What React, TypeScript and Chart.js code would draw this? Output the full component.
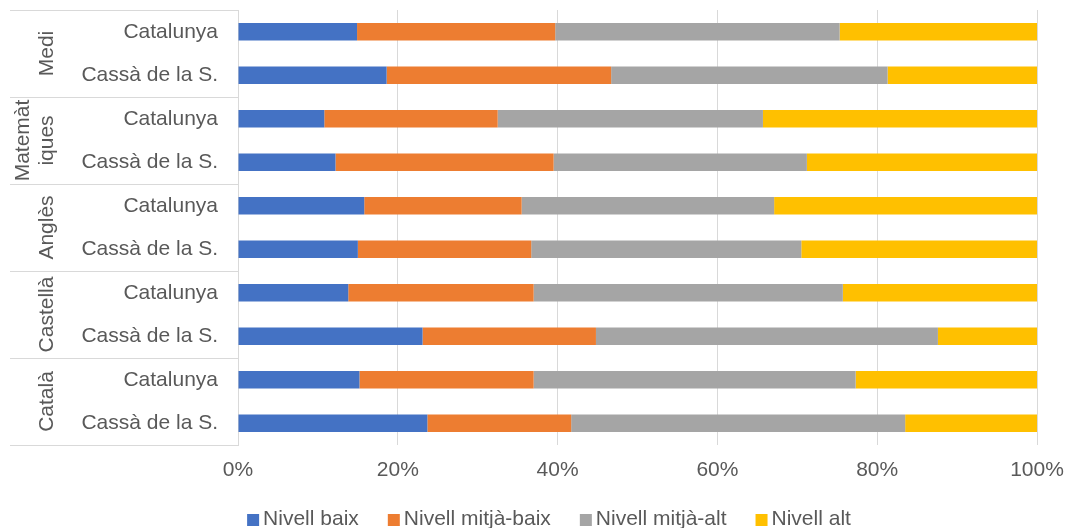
import React, { useEffect, useRef } from "react";
import { Chart, registerables } from "chart.js";

Chart.register(...registerables);

const categories = [
  "Catalunya", "Cassà de la S.",
  "Catalunya", "Cassà de la S.",
  "Catalunya", "Cassà de la S.",
  "Catalunya", "Cassà de la S.",
  "Catalunya", "Cassà de la S.",
];
const groups = [["Medi"], ["Matemàt", "iques"], ["Anglès"], ["Castellà"], ["Català"]];
const seriesNames = ["Nivell baix", "Nivell mitjà-baix", "Nivell mitjà-alt", "Nivell alt"];
const nivellBaix = [14.9, 18.6, 10.8, 12.2, 15.8, 15.0, 13.8, 23.1, 15.2, 23.7];
const nivellMitjaBaix = [24.8, 28.1, 21.7, 27.3, 19.7, 21.7, 23.2, 21.7, 21.8, 18.0];
const nivellMitjaAlt = [35.6, 34.6, 33.2, 31.7, 31.6, 33.8, 38.7, 42.8, 40.3, 41.8];
const nivellAlt = [24.7, 18.7, 34.3, 28.8, 32.9, 29.5, 24.3, 12.4, 22.7, 16.5];
const colors = ["#4472C4", "#ED7D31", "#A5A5A5", "#FFC000"];

const FONT = "'Liberation Sans', Arial, sans-serif";
const TEXT = "#595959";
const LINE = "#d9d9d9";

const groupPlugin = {
  id: "groupPlugin",
  afterDraw(chart: any) {
    const ctx = chart.ctx;
    const y = chart.scales.y;
    const left = chart.chartArea.left;
    ctx.save();
    ctx.strokeStyle = LINE;
    ctx.lineWidth = 1;
    const n = groups.length;
    for (let g = 0; g <= n; g++) {
      const py = Math.round(y.getPixelForValue(g * 2 - 0.5)) + 0.5;
      ctx.beginPath();
      ctx.moveTo(10, py);
      ctx.lineTo(left, py);
      ctx.stroke();
    }
    ctx.fillStyle = TEXT;
    ctx.font = `21px ${FONT}`;
    ctx.textAlign = "center";
    ctx.textBaseline = "middle";
    for (let g = 0; g < n; g++) {
      const cy = y.getPixelForValue(g * 2 + 0.5);
      const lines = groups[g];
      lines.forEach((line, i) => {
        const cx = 47 - (lines.length - 1 - i) * 24;
        ctx.save();
        ctx.translate(cx, cy);
        ctx.rotate(-Math.PI / 2);
        ctx.fillText(line, 0, 0);
        ctx.restore();
      });
    }
    // legend
    const ds = chart.data.datasets;
    const box = 12;
    const gap = 4;
    const spacing = 29;
    const widths = ds.map((d: any) => box + gap + ctx.measureText(d.label).width);
    const total = widths.reduce((a: number, b: number) => a + b, 0) + spacing * (ds.length - 1);
    let x = 549 - total / 2;
    const ly = 519;
    ctx.textAlign = "left";
    ds.forEach((d: any, i: number) => {
      ctx.fillStyle = d.backgroundColor;
      ctx.fillRect(x, ly - 5, box, box);
      ctx.fillStyle = TEXT;
      ctx.fillText(d.label, x + box + gap, ly);
      x += widths[i] + spacing;
    });
    ctx.restore();
  },
};

export default function App() {
  const ref = useRef<HTMLCanvasElement>(null);
  useEffect(() => {
    document.body.style.margin = "0";
    const data = [nivellBaix, nivellMitjaBaix, nivellMitjaAlt, nivellAlt];
    const chart = new Chart(ref.current!, {
      type: "bar",
      data: {
        labels: categories,
        datasets: seriesNames.map((name, i) => ({
          label: name,
          data: data[i],
          backgroundColor: colors[i],
          borderWidth: 0,
          barPercentage: 0.4,
          categoryPercentage: 1,
        })),
      },
      options: {
        indexAxis: "y",
        responsive: false,
        animation: false,
        layout: { padding: { left: 0, right: 32, top: 10, bottom: 43 } },
        plugins: { legend: { display: false }, tooltip: { enabled: false } },
        scales: {
          x: {
            stacked: true,
            min: 0,
            max: 100,
            ticks: {
              stepSize: 20,
              padding: 13,
              color: TEXT,
              font: { family: FONT, size: 21 },
              callback: (v: any) => v + "%",
            },
            grid: { color: LINE, lineWidth: 1, drawTicks: false },
            border: { display: false },
            afterFit: (s: any) => {
              s.height = 40;
              s.paddingLeft = 0;
              s.paddingRight = 0;
            },
          },
          y: {
            stacked: true,
            ticks: {
              padding: 20,
              color: TEXT,
              font: { family: FONT, size: 21 },
            },
            grid: { display: false, drawTicks: false },
            border: { display: true, color: LINE, width: 1 },
            afterFit: (s: any) => {
              s.width = 238;
              s.paddingTop = 0;
              s.paddingBottom = 0;
            },
          },
        },
      },
      plugins: [groupPlugin],
    });
    return () => chart.destroy();
  }, []);
  return (
    <div style={{ width: 1069, height: 528 }}>
      <canvas ref={ref} width={1069} height={528} />
    </div>
  );
}
